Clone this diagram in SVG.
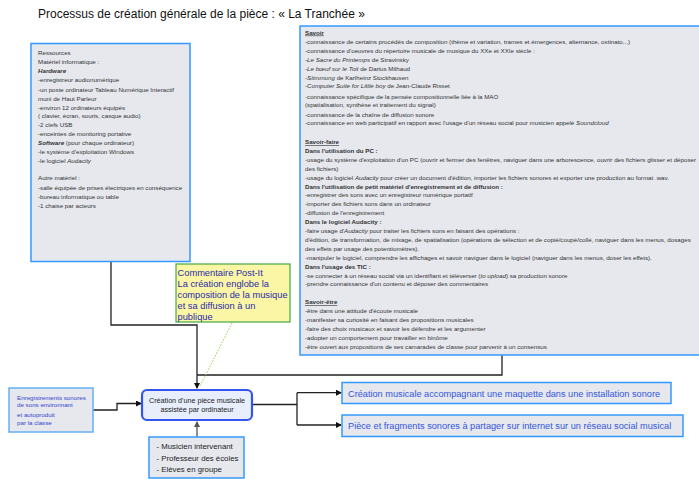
<svg xmlns="http://www.w3.org/2000/svg" width="699" height="479" viewBox="0 0 699 479">
<style>
text{font-family:"Liberation Sans",Arial,sans-serif;}
.title{font-size:12px;fill:#111;}
.box{fill:#e6e8ee;stroke:#3399ff;stroke-width:1.5;}
.sm{font-size:6.2px;fill:#333;}
.sl{font-size:6.2px;fill:#333;}
.hd{font-weight:bold;text-decoration:underline;}
.b{font-weight:bold;}
.i{font-style:italic;}
.note{fill:#fbf6a6;stroke:#44aa44;stroke-width:1.2;}
.nt{font-size:9.3px;fill:#2a2aa8;}
.main{fill:#e8eefc;stroke:#3355ee;stroke-width:2.2;}
.mt{font-size:7.2px;fill:#222;text-anchor:middle;}
.bt{font-size:6.2px;fill:#3344cc;}
.ot{font-size:9.2px;fill:#3355dd;}
.pt{font-size:7.8px;fill:#222;}
.ln{fill:none;stroke:#222;stroke-width:1.3;}
</style>
<defs>
<marker id="ah" markerWidth="6" markerHeight="6" refX="5" refY="3" orient="auto" markerUnits="userSpaceOnUse">
<path d="M0,0 L6,3 L0,6 z" fill="#111"/>
</marker>
<marker id="ahg" markerWidth="6" markerHeight="6" refX="5" refY="3" orient="auto" markerUnits="userSpaceOnUse">
<path d="M0,0 L6,3 L0,6 z" fill="#555"/>
</marker>
</defs>

<text class="title" x="38" y="17.5">Processus de création générale de la pièce : « La Tranchée »</text>

<g id="connectors">
<path class="ln" d="M111,262 V325 H197 V388" marker-end="url(#ah)"/>
<path class="ln" d="M502,355 V375 H197"/>
<path class="ln" d="M93,410 H117 V403.5 H141" marker-end="url(#ah)"/>
<path d="M197,437 V422" fill="none" stroke="#555" stroke-width="1.3" marker-end="url(#ahg)"/>
<path class="ln" d="M252,404.5 H297"/>
<path class="ln" d="M297,392.7 V425"/>
<path class="ln" d="M297,392.7 H341" marker-end="url(#ah)"/>
<path class="ln" d="M297,425 H341" marker-end="url(#ah)"/>
<path d="M232,323 L200,386" fill="none" stroke="#99cc55" stroke-width="1" stroke-dasharray="1.5,1.5"/>
</g>

<g id="ressources">
<rect class="box" x="31" y="43.5" width="159" height="218"/>
<text class="sl" x="38" y="55">Ressources</text>
<text class="sl" x="38" y="64">Matériel informatique :</text>
<text class="sl b i" x="38" y="73">Hardware</text>
<text class="sl" x="38" y="82">-enregistreur audionumérique</text>
<text class="sl" x="38" y="91.5">-un poste ordinateur Tableau Numérique Interactif</text>
<text class="sl" x="38" y="100.5">muni de Haut Parleur</text>
<text class="sl" x="38" y="109.5">-environ 12 ordinateurs équipés</text>
<text class="sl" x="38" y="118">( clavier, écran, souris, casque audio)</text>
<text class="sl" x="38" y="127">-2 clefs USB</text>
<text class="sl" x="38" y="136">-enceintes de monitoring portative</text>
<text class="sl" x="38" y="145"><tspan class="b i">Software</tspan> (pour chaque ordinateur)</text>
<text class="sl" x="38" y="153.5">-le système d'exploitation Windows</text>
<text class="sl" x="38" y="163">-le logiciel <tspan class="i">Audacity</tspan></text>
<text class="sl" x="38" y="180">Autre matériel  :</text>
<text class="sl" x="38" y="190">-salle équipée de prises électriques en conséquence</text>
<text class="sl" x="38" y="199">-bureau informatique ou table</text>
<text class="sl" x="38" y="208">-1 chaise par acteurs</text>
</g>

<g id="competences">
<rect class="box" x="300" y="26" width="410" height="329"/>
<text class="sm b hd" x="305" y="34.5">Savoir</text>
<text class="sm" x="305" y="43.5">-connaissance de certains procédés de composition (thème et variation, trames et émergences, alternance, ostinato...)</text>
<text class="sm" x="305" y="53.3">-connaissance d'oeuvres du répertoire musicale de musique du XXe et XXIe siècle :</text>
<text class="sm" x="305" y="61.5"><tspan class="i">-Le Sacre du Printemps</tspan> de Stravinsky</text>
<text class="sm" x="305" y="70.5"><tspan class="i">-Le bœuf sur le Toit</tspan> de Darius Milhaud</text>
<text class="sm" x="305" y="80.3"><tspan class="i">-Stimmung</tspan> de Karlheinz Stockhausen</text>
<text class="sm" x="305" y="88.2"><tspan class="i">-Computer Suite for Little boy</tspan> de Jean-Claude Risset</text>
<text class="sm" x="305" y="98.5">-connaissance spécifique de la pensée compositionnelle liée à la MAO</text>
<text class="sm" x="305" y="106.5">(spatialisation, synthèse et traitement du signal)</text>
<text class="sm" x="305" y="116.8">-connaissance de la chaîne de diffusion sonore</text>
<text class="sm" x="305" y="124.5">-connaissance en web participatif en rapport avec l'usage d'un réseau social pour musicien appelé <tspan class="i">Soundcloud</tspan></text>

<text class="sm b hd" x="305" y="144">Savoir-faire</text>
<text class="sm b" x="305" y="152.9">Dans l'utilisation du PC  :</text>
<text class="sm" x="305" y="161.8">-usage du système d'exploitation d'un PC (ouvrir et fermer des fenêtres, naviguer dans une arborescence, ouvrir des fichiers glisser et déposer</text>
<text class="sm" x="305" y="170.7">des fichiers)</text>
<text class="sm" x="305" y="179.6">-usage du logiciel <tspan class="i">Audacity</tspan> pour créer un document d'édition, importer les fichiers sonores et exporter une production au format .wav.</text>
<text class="sm b" x="305" y="188.5">Dans l'utilisation de petit matériel d'enregistrement et de diffusion  :</text>
<text class="sm" x="305" y="197.4">-enregistrer des sons avec un enregistreur numérique portatif</text>
<text class="sm" x="305" y="206.3">-importer des fichiers sons dans un ordinateur</text>
<text class="sm" x="305" y="215.2">-diffusion de l'enregistrement</text>
<text class="sm b" x="305" y="224.1">Dans le logiciel Audacity  :</text>
<text class="sm" x="305" y="233">-faire usage d'<tspan class="i">Audacity</tspan> pour traiter les fichiers sons en faisant des opérations :</text>
<text class="sm" x="305" y="241.9">d'édition, de transformation, de mixage, de spatialisation (opérations de sélection et de copié/coupé/collé, naviguer dans les menus, dosages</text>
<text class="sm" x="305" y="250.8">des effets par usage des potentiomètres).</text>
<text class="sm" x="305" y="259.7">-manipuler le logiciel, comprendre les affichages et savoir naviguer dans le logiciel (naviguer dans les menus, doser les effets).</text>
<text class="sm b" x="305" y="268.6">Dans l'usage des TIC  :</text>
<text class="sm" x="305" y="277.5">-se connecter à un réseau social via un identifiant et téléverser (<tspan class="i">to upload</tspan>) sa production sonore</text>
<text class="sm" x="305" y="286.4">-prendre connaissance d'un contenu et déposer des commentaires</text>

<text class="sm b hd" x="305" y="304.2">Savoir-être</text>
<text class="sm" x="305" y="313.1">-être dans une attitude d'écoute musicale</text>
<text class="sm" x="305" y="322">-manifester sa curiosité en faisant des propositions musicales</text>
<text class="sm" x="305" y="330.9">-faire des choix musicaux et savoir les défendre et les argumenter</text>
<text class="sm" x="305" y="339.8">-adopter un comportement pour travailler en binôme</text>
<text class="sm" x="305" y="348.7">-être ouvert aux propositions de ses camarades de classe pour parvenir à un consensus</text>
</g>

<g id="postit">
<rect class="note" x="176" y="264" width="114" height="58"/>
<text class="nt" x="177.5" y="275.8">Commentaire Post-It</text>
<text class="nt" x="177.5" y="287.3">La création englobe la</text>
<text class="nt" x="177.5" y="297.8">composition de la musique</text>
<text class="nt" x="177.5" y="308.8">et sa  diffusion à un</text>
<text class="nt" x="177.5" y="319.8">publique</text>
</g>

<g id="creation">
<rect class="main" x="142" y="390" width="110" height="30" rx="5"/>
<text class="mt" x="197" y="403">Création d'une pièce musicale</text>
<text class="mt" x="197" y="411.5">assistée par ordinateur</text>
</g>

<g id="enregistrements">
<rect class="box" x="9" y="388" width="84" height="44" style="stroke:#66b0f5"/>
<text class="bt" x="17" y="399.5">Enregistrements sonores</text>
<text class="bt" x="17" y="407.2">de sons environnant</text>
<text class="bt" x="17" y="417.2">et autoproduit</text>
<text class="bt" x="17" y="424.9">par la classe</text>
</g>

<g id="acteurs">
<rect class="box" x="149" y="437" width="95" height="41"/>
<text class="pt" x="156.5" y="448.8">- Musicien intervenant</text>
<text class="pt" x="156.5" y="461">- Professeur des écoles</text>
<text class="pt" x="156.5" y="471.8">- Elèves en groupe</text>
</g>

<g id="sortie1">
<rect class="box" x="342" y="382.5" width="329" height="21"/>
<text class="ot" x="348" y="396.5">Création musicale accompagnant une maquette dans une installation sonore</text>
</g>

<g id="sortie2">
<rect class="box" x="342" y="415" width="341" height="21.5"/>
<text class="ot" x="348" y="429.3">Pièce et fragments sonores à partager sur internet sur un réseau social musical</text>
</g>
</svg>
